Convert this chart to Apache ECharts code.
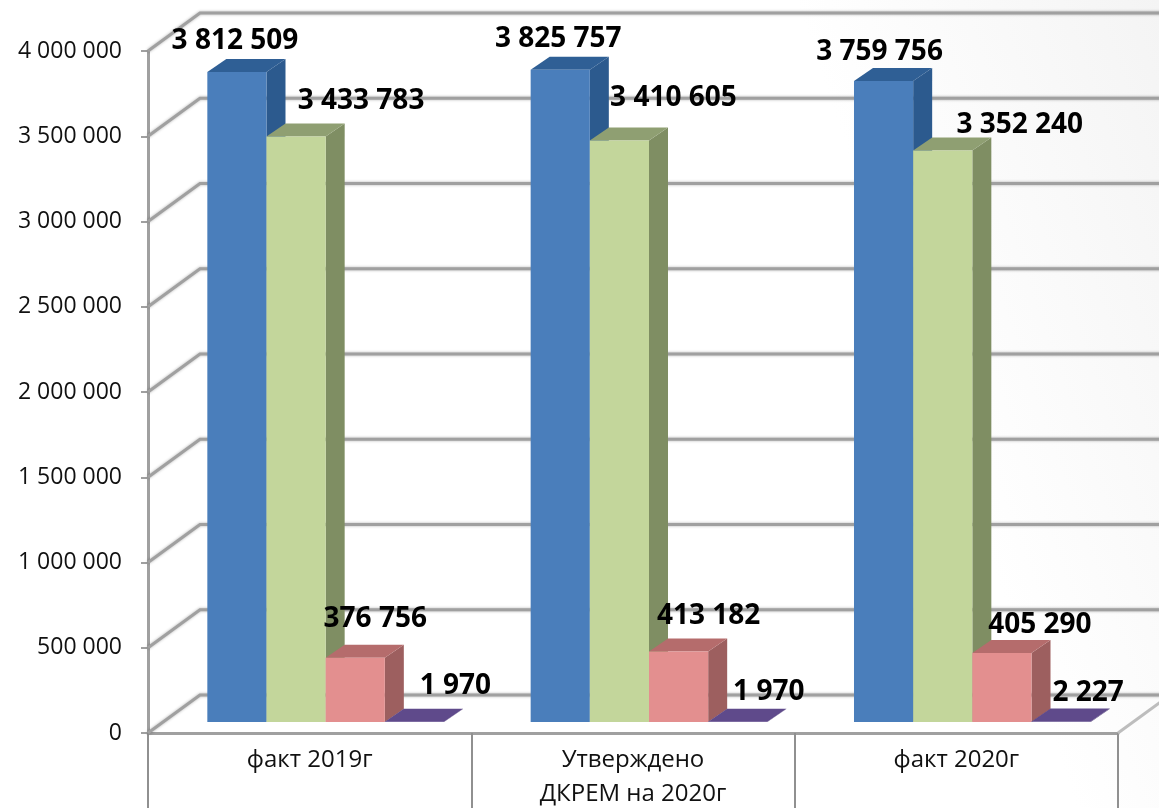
<!DOCTYPE html>
<html>
<head>
<meta charset="utf-8">
<title>chart</title>
<script src="https://cdn.jsdelivr.net/npm/echarts@6/dist/echarts.min.js"></script>
<style>
  html, body { margin: 0; padding: 0; background: #fff; }
  #chart { width: 1159px; height: 808px; }
</style>
</head>
<body>
<div id="chart"></div>
<script>
var categories = ["факт 2019г", "Утверждено\nДКРЕМ на 2020г", "факт 2020г"];
var seriesBlue = [3812509, 3825757, 3759756];
var seriesGreen = [3433783, 3410605, 3352240];
var seriesRed = [376756, 413182, 405290];
var seriesPurple = [1970, 1970, 2227];
var yTicks = [0, 500000, 1000000, 1500000, 2000000, 2500000, 3000000, 3500000, 4000000];
var yTickLabels = ["0", "500 000", "1 000 000", "1 500 000", "2 000 000", "2 500 000", "3 000 000", "3 500 000", "4 000 000"];
var labelsBlue = ["3 812 509", "3 825 757", "3 759 756"];
var labelsGreen = ["3 433 783", "3 410 605", "3 352 240"];
var labelsRed = ["376 756", "413 182", "405 290"];
var labelsPurple = ["1 970", "1 970", "2 227"];

// hand placed labels, offset from the middle of the bar top
var blueOffsets = [[-2, -31], [-2, -31], [-4, -29]];
var greenOffsets = [[65, -36], [54, -42], [77, -25]];
var redOffsets = [[20, -39], [30, -36], [38, -28]];
var purpleOffsets = [[41, -36], [31, -30], [27, -29]];

var GREY = "#a0a0a0";
var FONT = "'Open Sans', sans-serif";
var BAR_SHARE = 0.183;   // bar width / category width
var GROUP_DX = 16, FLOOR_DY = 11;   // bars stand this far into the floor
var BAR_DX = 19, BAR_DY = 13;       // depth of a bar
var WALL_DX = 52, WALL_DY = 38;     // depth of the chart box

function barTop(api, slot) {
    var c = api.coord([api.value(0), api.value(1)]);
    var base = api.coord([api.value(0), 0]);
    var w = api.size([1, 0])[0] * BAR_SHARE;
    var left = c[0] + GROUP_DX + (slot - 2) * w;
    return { left: left, w: w, top: c[1] - FLOOR_DY, bottom: base[1] - FLOOR_DY };
}

function makeBar(slot, front, top, side) {
    return function (params, api) {
        var b = barTop(api, slot);
        var l = b.left, r = b.left + b.w, t = b.top, y = b.bottom;
        return {
            type: "group",
            children: [
                { type: "polygon", shape: { points: [[r, t], [r + BAR_DX, t - BAR_DY], [r + BAR_DX, y - BAR_DY], [r, y]] }, style: { fill: side } },
                { type: "polygon", shape: { points: [[l, t], [l + BAR_DX, t - BAR_DY], [r + BAR_DX, t - BAR_DY], [r, t]] }, style: { fill: top } },
                { type: "rect", shape: { x: l, y: t, width: b.w, height: y - t }, style: { fill: front } }
            ]
        };
    };
}

function makeLabels(slot) {
    return function (params, api) {
        var b = barTop(api, slot);
        return {
            type: "text",
            style: {
                x: b.left + b.w / 2 + api.value(2),
                y: b.top + api.value(3),
                text: labelSets[slot][params.dataIndex],
                font: "bold 28px " + FONT,
                fill: "#000",
                align: "center",
                verticalAlign: "middle"
            }
        };
    };
}

function renderWall(params, api) {
    var v = api.value(1);
    var cs = params.coordSys;
    var p = api.coord([0, v]);
    var x0 = cs.x, right = cs.x + cs.width;
    var kids = [{
        type: "polyline",
        shape: { points: [[x0, p[1]], [x0 + WALL_DX, p[1] - WALL_DY], [1165, p[1] - WALL_DY]] },
        style: { stroke: GREY, lineWidth: 3, fill: null, shadowBlur: 3, shadowColor: "rgba(0,0,0,0.3)" }
    }];
    if (v === 0) {
        kids.push({
            type: "line",
            shape: { x1: right, y1: p[1], x2: right + WALL_DX, y2: p[1] - WALL_DY },
            style: { stroke: "#bdbdbd", lineWidth: 3 }
        });
    }
    return { type: "group", children: kids };
}

var labelSets = [labelsBlue, labelsGreen, labelsRed, labelsPurple];

function barData(values) {
    return values.map(function (v, i) { return [i, v]; });
}
function labelData(values, offsets) {
    return values.map(function (v, i) { return [i, v, offsets[i][0], offsets[i][1]]; });
}

var chart = echarts.init(document.getElementById("chart"));
chart.setOption({
    backgroundColor: {
        type: "linear", x: 0.72, y: 0.14, x2: 1, y2: 0,
        colorStops: [{ offset: 0, color: "#ffffff" }, { offset: 1, color: "#f4f4f4" }]
    },
    animation: false,
    grid: { left: 148, top: 51, width: 970, height: 682, outerBoundsMode: "none" },
    xAxis: {
        type: "category",
        data: categories,
        axisLine: { lineStyle: { color: GREY, width: 3 } },
        axisTick: { show: true, length: 75, alignWithLabel: false, lineStyle: { color: "#909090", width: 2 } },
        axisLabel: { color: "#111", fontFamily: FONT, fontSize: 24, margin: 10, lineHeight: 34, interval: 0 }
    },
    yAxis: {
        type: "value",
        min: 0,
        max: 4000000,
        interval: 500000,
        axisLine: { show: true, lineStyle: { color: GREY, width: 3 } },
        axisTick: { show: true, length: 7, lineStyle: { color: GREY, width: 2 } },
        splitLine: { show: false },
        axisLabel: {
            color: "#111",
            fontFamily: FONT,
            fontSize: 23,
            margin: 26,
            formatter: function (val) { return yTickLabels[yTicks.indexOf(val)]; }
        }
    },
    series: [
        { type: "custom", renderItem: renderWall, data: yTicks.map(function (v) { return [0, v]; }), z: 1, silent: true },
        { type: "custom", name: "blue", renderItem: makeBar(0, "#4a7ebb", "#2f5f95", "#2c5a8e"), data: barData(seriesBlue), z: 2 },
        { type: "custom", name: "green", renderItem: makeBar(1, "#c3d69b", "#8f9f72", "#7f8e63"), data: barData(seriesGreen), z: 3 },
        { type: "custom", name: "red", renderItem: makeBar(2, "#e38f8f", "#b56c6c", "#9d5f5f"), data: barData(seriesRed), z: 4 },
        { type: "custom", name: "purple", renderItem: makeBar(3, "#5f4a8b", "#5f4a8b", "#4a3a70"), data: barData(seriesPurple), z: 5 },
        { type: "custom", renderItem: makeLabels(0), data: labelData(seriesBlue, blueOffsets), z: 10, silent: true },
        { type: "custom", renderItem: makeLabels(1), data: labelData(seriesGreen, greenOffsets), z: 10, silent: true },
        { type: "custom", renderItem: makeLabels(2), data: labelData(seriesRed, redOffsets), z: 10, silent: true },
        { type: "custom", renderItem: makeLabels(3), data: labelData(seriesPurple, purpleOffsets), z: 10, silent: true }
    ]
});
</script>
</body>
</html>
